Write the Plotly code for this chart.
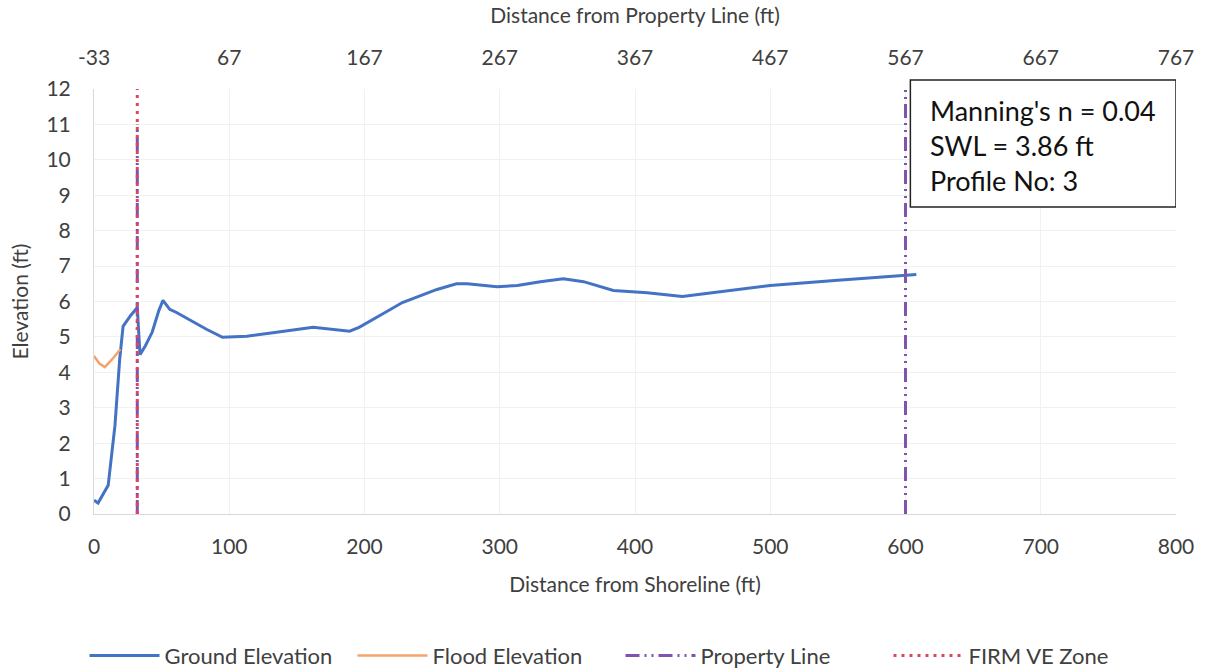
import plotly.graph_objects as go

# Ground profile along the transect (distance from shoreline, ft / elevation, ft)
ground_x = [0, 3, 10.5, 15.5, 19, 21.5, 27, 32, 34, 38, 43, 48, 51, 56, 61, 72, 83.5, 95,
            113, 135, 162, 189, 196, 212, 228, 253.6, 268, 276, 298, 313, 330, 347, 362,
            384, 409, 435, 470, 500, 550, 600, 608]
ground_y = [0.39, 0.31, 0.81, 2.5, 4.37, 5.3, 5.6, 5.83, 4.5, 4.75, 5.13, 5.75, 6.03, 5.78,
            5.69, 5.45, 5.21, 4.99, 5.02, 5.13, 5.27, 5.16, 5.27, 5.62, 5.97, 6.34, 6.5,
            6.5, 6.42, 6.45, 6.56, 6.64, 6.56, 6.31, 6.25, 6.14, 6.3, 6.45, 6.6, 6.74, 6.76]

# Flood elevation near the shoreline
flood_x = [0, 4, 8, 13, 19.5]
flood_y = [4.46, 4.25, 4.15, 4.35, 4.65]

# Property line and FIRM VE zone markers
property_x = [32, 32, None, 600, 600]
property_y = [0, 11, None, 0, 12]
ve_x = [32, 32]
ve_y = [0, 12]

shore_ticks = [0, 100, 200, 300, 400, 500, 600, 700, 800]
prop_ticks = [-33, 67, 167, 267, 367, 467, 567, 667, 767]
prop_tick_labels = ["-33", "67", "167", "267", "367", "467", "567", "667", "767"]

FONT = "Lato"
TXT = "#404040"
GRID = "#f1f1f1"
TICK_SIZE = 21
TITLE_SIZE = 21

fig = go.Figure()
fig.add_trace(go.Scatter(x=ground_x, y=ground_y, mode="lines", name="Ground Elevation",
                         line=dict(color="#4472C4", width=3)))
fig.add_trace(go.Scatter(x=flood_x, y=flood_y, mode="lines", name="Flood Elevation",
                         line=dict(color="#F4A46A", width=2.5)))
fig.add_trace(go.Scatter(x=property_x, y=property_y, mode="lines", name="Property Line",
                         line=dict(color="#8054AE", width=3,
                                   dash="14px,5px,2px,5px,2px,5px")))
fig.add_trace(go.Scatter(x=ve_x, y=ve_y, mode="lines", name="FIRM VE Zone",
                         line=dict(color="#D9485F", width=3, dash="3px,5px")))
# carries the secondary (top) axis
fig.add_trace(go.Scatter(x=[prop_ticks[0], prop_ticks[-1]], y=[None, None], xaxis="x2",
                         mode="lines", showlegend=False, hoverinfo="skip"))

fig.update_layout(
    width=1207, height=669,
    margin=dict(l=94, r=31, t=89, b=155, autoexpand=False),
    paper_bgcolor="white", plot_bgcolor="white",
    font=dict(family=FONT, size=TICK_SIZE, color=TXT),
    xaxis=dict(range=[0, 800], tickvals=shore_ticks, showgrid=True, gridcolor=GRID,
               zeroline=False, showline=True, linecolor="#d9d9d9", ticks="",
               ticklabelstandoff=14,
               title=dict(text="Distance from Shoreline (ft)", standoff=20,
                          font=dict(size=TITLE_SIZE, color=TXT)),
               tickfont=dict(size=TICK_SIZE, color=TXT)),
    xaxis2=dict(range=[-33, 767], tickvals=prop_ticks, ticktext=prop_tick_labels,
                overlaying="x", side="top",
                showgrid=False, zeroline=False, showline=False, ticks="",
                ticklabelstandoff=19,
                title=dict(text="Distance from Property Line (ft)", standoff=14,
                           font=dict(size=TITLE_SIZE, color=TXT)),
                tickfont=dict(size=TICK_SIZE, color=TXT)),
    yaxis=dict(range=[0, 12], dtick=1, showgrid=True, gridcolor=GRID, zeroline=False,
               showline=True, linecolor="#d9d9d9", ticks="", ticklabelstandoff=18,
               title=dict(text="Elevation (ft)", standoff=12,
                          font=dict(size=TITLE_SIZE, color=TXT)),
               tickfont=dict(size=TICK_SIZE, color=TXT)),
    legend=dict(orientation="h", xref="container", yref="container",
                x=0.07, xanchor="left", y=0.02, yanchor="middle",
                font=dict(size=22, color=TXT), itemwidth=70, tracegroupgap=0,
                entrywidth=183, entrywidthmode="pixels"),
    showlegend=True,
)

# Parameter box in the upper right corner
fig.add_shape(type="rect", xref="x", yref="paper", x0=603.6, x1=800, y0=0.7224, y1=1.0212,
              line=dict(color="#222222", width=1.5), fillcolor="white", layer="above")
fig.add_annotation(
    xref="x", yref="paper", x=617.4, y=0.99, xanchor="left", yanchor="top",
    text="Manning's n = 0.04<br>SWL = 3.86 ft<br>Profile No: 3",
    showarrow=False, align="left", borderpad=0,
    font=dict(family=FONT, size=27, color="#111111"),
)

fig.write_html("out.html")
